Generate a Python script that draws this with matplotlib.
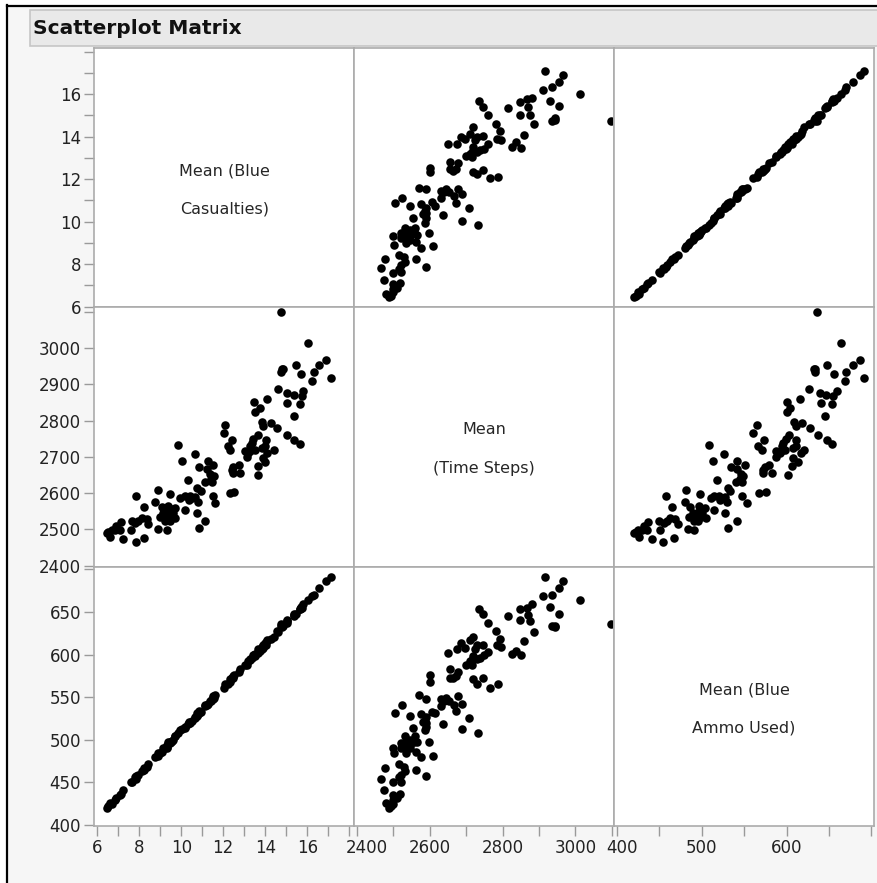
import matplotlib.pyplot as plt
import matplotlib.transforms as mtransforms
from matplotlib.patches import Rectangle
from matplotlib.lines import Line2D

# means per design point
blue_casualties = [
    14.73, 16.02, 16.89, 16.56, 17.11, 15.46, 15.68, 16.33, 16.21, 14.86,
    14.75, 14.60, 15.03, 15.38, 15.81, 15.76, 15.02, 15.64, 15.35, 14.08,
    13.48, 13.73, 13.51, 12.08, 12.05, 12.41, 12.24, 12.32, 13.86, 14.26,
    14.57, 15.02, 15.37, 15.67, 13.67, 13.43, 14.02, 13.27, 13.51, 13.16,
    14.43, 14.10, 13.87, 13.99, 13.11, 13.67, 13.67, 12.48, 12.75, 12.48,
    12.79, 12.32, 12.52, 9.83, 10.65, 10.05, 10.86, 11.29, 11.52, 10.33,
    11.13, 11.41, 11.54, 10.73, 10.94, 9.94, 10.41, 10.81, 11.52, 11.60,
    10.18, 10.73, 11.13, 10.86, 7.84, 8.87, 9.46, 8.24, 8.75, 9.06,
    9.38, 9.62, 9.14, 9.30, 9.70, 9.46, 8.11, 8.43, 7.64, 7.79,
    8.90, 9.30, 7.60, 7.13, 6.87, 6.68, 6.45, 6.60, 7.24, 7.83,
    8.24, 7.08, 9.54, 9.22, 10.65, 11.37, 13.99, 13.27, 6.52, 8.35,
    10.38, 9.70, 8.99, 9.51, 13.35, 13.83, 13.03, 12.40, 11.21, 11.45,
    6.84, 7.95, 10.18, 10.49, 9.30, 14.78, 13.91,
]
time_steps = [
    3099, 3014, 2967, 2954, 2917, 2954, 2930, 2935, 2910, 2944,
    2935, 2887, 2876, 2870, 2881, 2867, 2849, 2847, 2814, 2860,
    2851, 2836, 2825, 2787, 2766, 2747, 2729, 2720, 2796, 2793,
    2781, 2760, 2747, 2736, 2761, 2750, 2746, 2729, 2720, 2710,
    2718, 2710, 2697, 2687, 2701, 2676, 2651, 2673, 2678, 2656,
    2656, 2600, 2602, 2733, 2709, 2689, 2671, 2688, 2677, 2637,
    2632, 2639, 2646, 2614, 2607, 2586, 2591, 2575, 2591, 2572,
    2554, 2545, 2524, 2504, 2591, 2609, 2597, 2562, 2575, 2563,
    2565, 2545, 2545, 2531, 2531, 2522, 2531, 2515, 2522, 2517,
    2501, 2499, 2499, 2519, 2510, 2499, 2489, 2480, 2474, 2465,
    2476, 2499, 2535, 2522, 2590, 2653, 2729, 2716, 2494, 2529,
    2582, 2559, 2535, 2556, 2738, 2724, 2715, 2665, 2666, 2632,
    2499, 2522, 2591, 2586, 2545, 2943, 2784,
]
ammo_used = [
    636, 664, 686, 678, 691, 648, 656, 670, 669, 634,
    633, 626, 639, 646, 659, 655, 640, 653, 645, 616,
    600, 604, 601, 565, 561, 573, 566, 571, 609, 618,
    628, 637, 648, 653, 603, 599, 611, 595, 598, 592,
    621, 617, 608, 613, 588, 606, 602, 575, 579, 572,
    583, 568, 576, 508, 526, 513, 534, 542, 551, 518,
    540, 545, 549, 531, 533, 511, 520, 530, 548, 553,
    514, 528, 541, 531, 458, 481, 498, 465, 480, 486,
    497, 500, 490, 492, 505, 496, 463, 472, 450, 456,
    484, 491, 451, 437, 432, 425, 420, 426, 441, 454,
    467, 435, 499, 491, 527, 546, 611, 593, 423, 468,
    521, 504, 485, 498, 596, 607, 588, 572, 541, 548,
    430, 459, 515, 522, 494, 632, 611,
]

var_labels = [("Mean (Blue", "Casualties)"), ("Mean", "(Time Steps)"), ("Mean (Blue", "Ammo Used)")]
series = [blue_casualties, time_steps, ammo_used]
x_limits = [(5.86, 18.24), (2393, 3107), (397, 703)]
y_limits = [(5.98, 18.17), (2396, 3114), (399, 702.6)]
tick_values = [list(range(6, 19)), list(range(2400, 3101, 100)), list(range(400, 701, 50))]
x_labeled = [list(range(6, 17, 2)), [2400, 2600, 2800, 3000], [400, 500, 600]]
y_labeled = [list(range(6, 17, 2)), list(range(2400, 3001, 100)), list(range(400, 651, 50))]

W, H = 877, 883
fig = plt.figure(figsize=(W / 100, H / 100), dpi=100)
fig.patch.set_facecolor("white")


def fig_box(x0, y0, x1, y1):
    return [x0 / W, 1 - y1 / H, (x1 - x0) / W, (y1 - y0) / H]


# window background, frame and title bar
fig.add_artist(Rectangle((8 / W, 0), 1, 1 - 7 / H, transform=fig.transFigure,
                         facecolor="#f6f6f6", edgecolor="none", zorder=0))
fig.add_artist(Line2D([7 / W, 7 / W], [0, 1 - 5 / H], transform=fig.transFigure, color="black", lw=1.6))
fig.add_artist(Line2D([7 / W, 1], [1 - 6 / H, 1 - 6 / H], transform=fig.transFigure, color="black", lw=1.6))
fig.add_artist(Rectangle((30 / W, 1 - 46 / H), 1, 36 / H, transform=fig.transFigure,
                         facecolor="#e9e9e9", edgecolor="#c6c6c6", lw=1.2, zorder=1))
fig.text(33 / W, 1 - 28 / H, "Scatterplot Matrix", fontsize=14.5, fontweight="bold",
         color="#111111", va="center", ha="left")

col_edges = [94.3, 354.3, 614.3, 874]
row_edges = [48, 307, 567, 826]

for i in range(3):
    for j in range(3):
        ax = fig.add_axes(fig_box(col_edges[j], row_edges[i], col_edges[j + 1], row_edges[i + 1]))
        ax.set_facecolor("white")
        for s in ax.spines.values():
            s.set_color("#ababab")
            s.set_linewidth(1.2)
        ax.set_xlim(*x_limits[j])
        ax.set_ylim(*y_limits[i])
        ax.tick_params(direction="out", length=7, width=1, color="#9a9a9a",
                       labelsize=12, labelcolor="#222222", pad=2.5)

        if i == j:
            a, b = var_labels[i]
            ax.text(0.5, 0.527, a, transform=ax.transAxes, ha="center", va="center",
                    fontsize=11.5, color="#262626")
            ax.text(0.5, 0.377, b, transform=ax.transAxes, ha="center", va="center",
                    fontsize=11.5, color="#262626")
        else:
            ax.scatter(series[j], series[i], s=38, color="black", linewidths=0)

        if i == 2:
            ax.set_xticks(tick_values[j])
            ax.set_xticklabels([str(v) if v in x_labeled[j] else "" for v in tick_values[j]])
            if j > 0:
                shift = mtransforms.ScaledTranslation((10 if j == 1 else 5) / 100, 0, fig.dpi_scale_trans)
                first = ax.get_xticklabels()[0]
                first.set_transform(first.get_transform() + shift)
        else:
            ax.set_xticks([])
        if j == 0:
            ax.set_yticks(tick_values[i])
            ax.set_yticklabels([str(v) if v in y_labeled[i] else "" for v in tick_values[i]])
        else:
            ax.set_yticks([])

fig.savefig("out.png", dpi=100)
